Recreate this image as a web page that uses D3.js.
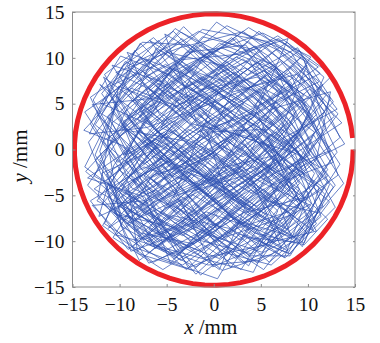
<!DOCTYPE html>
<html>
<head>
<meta charset="utf-8">
<script src="https://cdn.jsdelivr.net/npm/d3@7"></script>
<style>
  body { margin: 0; background: #fff; }
  text { font-family: "Liberation Serif", "DejaVu Serif", serif; fill: #111; }
</style>
</head>
<body>
<div class="chart-container"></div>
<script>
const totalWidth = 380;
const totalHeight = 343;

const margin = {left: 72.5, right: 25, top: 12, bottom: 56};
const chartWidth = totalWidth - margin.left - margin.right;
const chartHeight = totalHeight - margin.top - margin.bottom;

const xTicks = [-15, -10, -5, 0, 5, 10, 15];
const yTicks = [-15, -10, -5, 0, 5, 10, 15];

// boundary ring (mm) and the small gap where it starts/ends
const ringRadius = 14.8;
const ringGap = 0.085;

// trajectory of the beam (x, y in mm)
const walk = [
  [0.4,1.2],[3.2,5.1],[-2.4,8.7],[-7.9,4.3],[-3.1,-1.8],[4.6,-6.2],[9.8,-2.1],[6.3,4.9],[11.2,7.4],[5.7,11.8],
  [-1.2,13.1],[-5.6,9.4],[-11.3,6.8],[-8.2,-0.9],[-12.7,-4.3],[-6.4,-8.1],[-1.9,-13.6],[2.8,-9.2],[8.1,-11.4],[12.3,-5.7],
  [7.4,-1.3],[13.6,2.9],[8.8,8.2],[2.1,6.3],[-4.3,12.9],[-9.7,9.1],[-13.2,1.7],[-7.1,2.4],[-2.6,4.1],[1.4,-2.3],
  [-5.3,-5.4],[-10.4,-9.3],[-3.7,-11.2],[4.2,-13.4],[6.9,-7.6],[1.3,-5.1],[-0.7,1.9],[5.5,2.2],[10.6,-8.9],[3.9,-3.8],
  [-1.6,-8.4],[-8.8,-11.1],[-11.9,-2.6],[-4.8,0.7],[-9.1,5.9],[-3.4,9.8],[2.7,10.4],[7.9,12.1],[4.3,3.6],[-1.1,-0.6],
  [-6.7,-3.1],[-2.2,-6.9],[3.6,-11.7],[9.3,-6.4],[5.1,0.8],[0.2,4.6],[-5.9,7.2],[-10.8,2.9],[-6.1,-6.6],[0.9,-9.8],
  [6.2,-3.9],[12.7,-1.4],[9.4,5.6],[3.3,8.9],[-3.8,5.3],[-8.4,10.8],[-12.1,-0.2],[-9.6,-7.8],[-2.9,-3.7],[2.4,1.6],
  [8.6,-0.4],[11.4,-7.3],[5.9,-12.3],[0.1,-7.1],[-4.6,-12.4],[-7.3,-5.2],[-13.4,-3.1],[-7.7,0.9],[-1.8,6.8],[4.8,12.9],
  [9.9,8.7],[13.1,4.4],[7.1,1.1],[2.9,-4.6],[-3.3,-9.4],[-10.1,-6.2],[-5.2,-1.4],[-0.3,3.2],[-6.8,11.9],[-1.5,8.3],
  [5.3,6.1],[10.7,1.9],[6.6,-5.8],[1.8,-12.9],[-2.7,-5.6],[-8.1,-2.4],[-12.9,4.9],[-6.3,5.6],[0.6,11.6],[6.4,9.2],
  [12.1,-3.4],[8.4,-9.8],[2.2,-6.3],[-3.9,-0.2],[-10.3,-4.7],[-11.6,-8.1],[-5.7,-11.9],[0.4,-14.1],[3.8,-8.2],[7.7,-2.7],
  [13.9,0.6],[10.2,6.6],[4.1,1.3],[-2.3,2.8],[-7.6,8.6],[-3.2,13.4],[2.6,7.7],[-1.7,-1.6],[-6.9,-8.7],[-1.1,-11.8],
  [5.6,-10.4],[9.1,-4.3],[4.4,-0.9],[-0.8,5.9],[-5.4,3.1],[-11.7,7.9],[-8.9,1.4],[-3.6,-4.9],[3.1,-2.9],[8.3,3.7],
  [12.6,8.1],[6.8,12.4],[1.2,9.1],[-4.9,10.6],[-10.2,5.2],[-13.7,-1.9],[-8.6,-5.7],[-2.4,-9.9],[4.7,-5.1],[9.4,-10.6],
  [11.8,-4.9],[6.1,1.7],[0.7,-3.6],[-4.1,2.1],[-9.4,-0.6],[-4.7,7.7],[1.9,12.2],[7.3,6.8],[3.4,-1.4],[-2.1,-7.4],
  [-7.9,-12.1],[-11.2,-5.4],[-6.2,-0.1],[-0.9,-4.7],[5.2,-8.8],[10.4,-5.9],[7.9,0.3],[2.5,3.9],[-3.5,7.1],[-7.8,11.6],
  [-12.4,3.8],[-5.1,-3.3],[1.1,0.4],[6.9,-4.6],[11.9,2.4],[9.6,9.7],[3.7,13.3],[-1.4,9.6],[-6.6,4.7],[-11.1,-4.1],
  [-7.2,-10.3],[-0.6,-12.6],[4.9,-12.1],[8.7,-6.9],[3.6,-3.2],[-2.9,0.9],[-9.8,2.2],[-4.2,8.9],[2.3,4.8],[8.9,1.2],
  [12.9,-6.3],[7.6,-11.8],[1.6,-8.6],[-4.4,-7.2],[-9.1,-10.9],[-13.1,-5.6],[-7.4,-1.9],[-1.3,-3.9],[4.5,-1.8],[9.7,4.8],
  [5.8,10.2],[0.3,13.9],[-4.6,8.1],[-9.9,10.2],[-12.8,5.4],[-7.9,-3.6],[-2.7,-12.9],[2.1,-10.9],[7.3,-8.3],[12.1,-2.2],
  [7.8,5.3],[1.6,8.6],[-5.2,12.6],[-1.9,3.3],[4.3,-3.7],[9.2,-7.9],[5.3,-13.1],[-0.4,-9.3],[-6.1,-4.4],[-12.2,-7.3],
  [-10.6,-1.7],[-5.3,5.8],[-10.4,8.4],[-3.6,11.1],[2.9,12.8],[8.2,10.6],[11.6,5.1],[6.4,-1.1],[0.8,-6.2],[-4.8,-10.1],
  [-9.8,-5.1],[-3.1,1.7],[3.7,6.6],[9.1,10.8],[13.4,1.3],[8.1,-3.3],[2.6,-0.2],[-2.2,5.4],[-7.2,9.9],[-13.1,5.7],
  [-9.3,-2.7],[-4.3,-7.9],[1.4,-11.3],[6.1,-12.6],[10.9,-8.1],[8.4,-2.9],[2.8,2.6],[-2.5,-2.9],[-7.9,-7.4],[-13.6,-2.4],
  [-8.4,3.5],[-2.9,10.6],[3.4,11.4],[8.7,4.1],[4.9,-4.3],[-1.2,-10.3],[-5.4,-13.1],[-10.7,-9.6],[-6.5,-2.8],[-0.2,-0.9],
  [6.1,4.4],[12.4,6.3],[10.9,-1.1],[4.8,-7.4],[-0.9,-3.2],[-6.2,1.2],[-11.4,-2.7],[-7.7,-9.9],[-1.9,-7.9],[3.9,-11.6],
  [8.1,-11.6],[12.7,-4.1],[7.2,2.3],[1.7,7.1],[-4.4,4.6],[-10.1,6.9],[-12.3,-5.2],[-6.9,-11.3],[-0.6,-5.8],[5.4,-2.3],
  [10.8,3.2],[6.7,8.6],[0.8,11.1],[-5.5,7.9],[-0.4,2.7],[5.9,0.3],[10.9,-8.9],[5.7,-10.2],[-0.1,-12.8],[-4.2,-4.1],
  [-9.6,0.4],[-13.8,2.1],[-9.1,7.3],[-4.1,13.2],[0.9,9.9],[6.9,12.1],[11.7,7.9],[9.1,1.9],[3.6,-1.7],[-1.8,-6.4],
  [-6.9,-10.1],[-11.8,-5.9],[-6.8,0.3],[-1.2,4.8],[4.5,9.5],[10.3,5.5],[13.2,-2.8],[7.9,-6.8],[2.2,-8.7],[-3.5,-12.1],
  [-8.1,-7.9],[-12.6,-1.1],[-7.3,4.1],[-2.1,9.2],[3.1,5.4],[8.4,9.1],[12.8,3.6],[7.6,-0.8],[2.1,-4.1],[-3.7,-2.2],
  [-9.2,3.6],[-4.9,6.4],[0.1,0.9],[5.7,-5.6],[11.1,-6.9],[6.2,-11.4],[0.9,-13.2],[-4.1,-8.5],[-10.3,-7.1],[-13.3,0.8],
  [-8.8,6.7],[-3.1,4.4],[2.4,10.1],[7.9,7.2],[12.6,-0.9],[9.9,-5.2],[3.2,-6.9],[-2.6,-10.6],[-6.9,-12.4],[-11.4,-4.6],
  [-5.6,1.8],[0.3,-2.1],[6.8,-0.6],[11.9,5.9],[7.1,10.7],[1.4,13.5],[-3.9,9.4],[-8.9,5.1],[-12.7,-2.9],[-7.1,-6.1],
  [-1.4,-13.7],[3.6,-9.6],[9.6,-10.2],[12.3,-3.8],[8.1,0.6],[2.4,5.1],[-3.3,8.3],[-9.2,10.6],[-5.8,3.9],[-0.7,-1.3],
  [4.4,-6.7],[9.4,-1.8],[4.3,3.9],[-1.8,7.6],[-6.4,12.2],[-11.6,8.2],[-8.1,1.9],[-2.4,-3.1],[3.3,-8.8],[7.5,-11.8],
  [10.1,-4.8],[5.4,1.4],[0.1,6.7],[-5.7,10.9],[-10.9,4.3],[-6.3,-1.8],[-1.1,-6.6],[4.9,-3.1],[10.6,1.6],[13.8,-3.7],
  [9.2,-9.1],[3.1,-12.4],[-2.4,-7.1],[-8.7,-4.2],[-13.1,2.8],[-9.4,9.6],[-3.6,6.2],[1.9,2.4],[7.6,5.8],[10.3,10.1],
  [5.2,12.7],[-0.9,10.4],[-6.2,6.1],[-11.3,1.1],[-9.8,-8.4],[-4.1,-11.6],[1.7,-7.3],[6.9,-9.8],[11.6,-6.2],[8.9,-0.1],
  [3.1,3.4],[-2.9,-0.4],[-8.6,-3.3],[-5.1,-9.6],[0.6,-11.9],[5.6,-5.4],[0.8,1.4],[-4.7,5.1],[-9.8,1.6],[-13.4,-3.9],
  [-8.3,-8.9],[-2.8,-4.6],[3.4,-1.1],[8.9,-5.7],[13.1,-0.3],[9.7,6.9],[4.1,10.6],[-1.6,12.9],[-7.1,9.4],[-12.1,5.1],
  [-6.8,2.7],[-1.3,6.5],[4.6,7.9],[10.2,3.9],[6.3,-2.6],[0.6,-7.9],[-5.3,-11.1],[-10.9,-6.6],[-6.1,-3.9],[-0.4,2.1],
  [5.3,5.1],[11.3,8.3],[7.8,11.7],[2.7,8.1],[-3.4,3.6],[-8.9,8.4],[-12.6,-0.6],[-9.2,-5.8],[-3.8,-8.6],[2.9,-13.1],
  [6.3,-7.7],[11.7,-4.2],[7.1,-0.8],[1.5,3.8],[-4.1,-0.9],[-9.7,-3.9],[-5.6,-9.3],[0.3,-5.4],[6.1,-1.7],[12.1,-7.6],
  [9.6,-10.4],[4.3,-9.1],[-1.3,-4.6],[-7.2,0.4],[-11.8,-8.3],[-6.4,-12.3],[-0.7,-9.3],[4.8,-3.5],[10.2,-0.6],[7.3,6.1],
  [2.1,9.8],[-3.5,12.8],[-8.6,7.8],[-13.7,4.1],[-10.2,-1.4],[-4.6,2.9],[1.2,5.9],[6.6,10.9],[12.4,5.6],[9.5,-0.9],
  [4.1,-4.8],[-1.6,-1.4],[-7.4,-5.6],[-12.9,-6.1],[-7.9,-11.4],[-2.2,-13.2],[3.1,-7.9],[8.6,-9.6],[12.9,-3.9],[8.1,3.1],
  [2.8,7.4],[-2.6,11.4],[-7.6,11.7],[-11.9,6.1],[-7.2,-0.8],[-1.9,3.9],[3.6,0.2],[9.1,5.2],[13.4,-1.6],[9.9,-7.1],
  [4.1,-11.4],[-1.9,-9.8],[-7.6,-6.8],[-12.1,-1.1],[-7.9,5.3],[-2.4,8.6],[3.1,12.9],[8.6,8.6],[13.2,3.9],[8.8,-2.2],
  [3.3,-5.6],[-2.1,-10.3],[-7.8,-9.1],[-11.4,-3.4],[-6.5,0.9],[-1.1,-2.8],[4.4,2.1],[9.7,7.4],[5.3,11.4],[0.4,6.1],
  [-4.3,-5.2],[2.7,-1.9],[-1.8,4.4],[5.9,7.6],[0.2,-3.3],[-6.6,-0.7],[-2.1,-8.2],[3.9,-4.4],[8.3,-7.1],[1.1,-9.6],
  [-3.7,-3.9],[-8.2,2.1],[-3.3,-0.3],[2.1,3.4],[-2.7,6.9],[3.8,9.7],[7.4,3.1],[2.3,-2.6],[-5.1,-6.4],[-9.4,-1.2],
  [-4.4,3.9],[1.5,7.9],[6.2,2.6],[1.1,-1.1],[-3.2,-6.1],[2.9,-9.9],[6.8,-4.1],[0.6,-0.6],[-5.6,2.4],[-1.3,9.7],
  [4.2,5.2],[9.3,-0.8],[3.8,-6.1],[-2.4,-2.7],[-7.8,-6.3],[-3.1,-10.8],[1.9,-5.3],[7.1,-1.6],[2.2,4.9],[-3.4,1.1],
  [-8.6,5.3],[-4.2,9.4],[0.9,3.7],[6.1,-2.1],[10.4,3.3],[5.3,8.6],[-0.2,5.8],[-5.8,0.6],[-10.1,-4.2],[-4.9,-7.7],
  [0.8,-3.1],[5.6,-7.2],[1.3,-11.6],[-3.5,-7.6],[-7.4,-2.9],[-2.7,2.2],[3.1,-0.8],[7.9,2.9],[3.5,7.2],[-2.1,11.4],
  [-6.9,6.6],[-1.6,1.9],[4.6,4.1],[8.1,-4.4],[3.1,-8.1],[-2.3,-4.9],[-7.1,-9.4],[-2.9,-13.1],[2.5,-7.9],[7.2,-10.8],
  [4.1,-3.4],[-1.2,0.1],[-6.4,-4.1],[-11.2,0.4],[-6.3,4.4],[-0.9,8.1],[4.4,11.3],[8.6,6.3],[3.4,2.1],[-2.2,-1.3],
  [-7.4,1.3],[-3.7,5.9],[2.6,1.1],[7.4,-3.8],[2.4,-7.4],[-3.9,-11.4],[-6.7,-5.9],[-1.4,-3.3],[4.1,1.8],[9.7,-2.7],
  [5.1,-7.4],[-0.5,-2.6],[-5.4,-8.1],[-9.9,-3.6],[-5.1,0.2],[0.1,5.2],[5.7,1.3],[11.2,-1.9],[6.9,4.1],[1.4,9.2],
  [-4.2,6.1],[-9.6,3.1],[-4.9,-2.4],[0.4,-8.6],[5.3,-4.3],[9.9,-9.1],[4.6,-12.4],[-0.9,-7.1],[-6.2,-10.8],[-8.9,-5.4],
  [-3.3,-1.1],[2.3,-5.7],[7.8,-8.7],[10.7,-2.6],[5.8,3.5],[0.4,0.6],[-4.8,4.6],[-9.2,9.1],[-3.8,11.7],[1.8,6.6],
  [7.1,9.6],[11.8,4.1],[6.2,-0.4],[0.6,3.9],[-5.1,9.3],[-10.3,5.9],[-5.4,-1.2],[-0.6,-5.6],[4.7,-10.6],[8.9,-4.8],
  [3.3,0.4],[-2.6,-4.3],[-8.4,-9.9],[-3.6,-8.3],[1.9,-2.1],[6.9,-6.3],[12.1,-2.9],[7.7,3.6],[2.1,8.4],[-3.1,3.4],
  [-8.9,-0.7],[-12.4,-5.6],[-7.1,-8.4],[-1.5,-11.1],[3.9,-7.1],[-0.8,-1.9],[-6.2,2.1],[-1.1,5.3],[4.9,9.7],[9.6,5.9],
  [4.7,1.6],[-0.9,-3.8],[-5.7,-6.9],[-1.2,-9.1],[5.1,-11.2],[9.3,-6.6],[4.4,-2.1],[-1.3,1.4],[-7.6,-2.2],[-11.3,3.6],
  [-6.9,8.1],[-1.7,10.9],[3.9,6.3],[8.8,1.4],[3.6,-3.1],[-2.1,-7.8],[-7.3,-3.8],[-2.9,0.9],[2.6,5.1],[8.1,8.4],
  [11.2,1.1],[6.7,-4.2],[1.6,-9.1],[-3.8,-5.4],[-9.2,-8.1],[-5.3,-3.2],[-0.1,-0.4],[5.1,-3.6],[10.3,-6.1],[6.4,-10.2],
  [0.9,-6.1],[-4.5,-1.8],[-9.8,2.7],[-5.2,7.4],[0.3,3.1],[5.6,6.8],[9.3,10.1],[4.1,4.6],[-1.4,7.9],[-6.8,4.3],
  [-11.8,0.9],[-7.2,-4.9],[-1.9,-2.1],[3.6,-6.6],[8.1,-2.8],[3.2,2.3],[-2.4,-1.1],[-7.9,3.6],[-3.1,8.6],[2.4,12.1],
  [6.9,6.1],[1.7,1.3],[-3.8,-3.6],[-9.3,-6.9],[-4.1,-11.9],[1.2,-6.7],[6.5,-1.4],[1.8,4.1],[-4.4,8.9],[-8.1,3.3],
  [-2.9,-1.4],[2.6,-6.3],[8.2,-9.4],[5.9,-3.3],[0.8,2.8],[-4.6,-1.6],[-10.4,-5.6],[-6.1,-10.6],[-0.8,-6.8],[4.9,-8.9],
  [9.1,-3.7],[4.6,2.8],[-0.7,7.1],[-6.1,11.1],[-8.3,5.6],[-3.6,1.3],[1.7,-2.9],[6.6,1.9],[11.6,-2.9],[7.4,-7.9],
  [2.3,-11.9],[-2.8,-7.3],[-7.9,-1.9],[-3.6,3.7],[1.4,9.6],[6.3,4.8],[1.9,-0.7],[-3.4,-5.7],[-8.6,-10.6],[-3.3,-12.6],
  [2.6,-8.2],[-1.8,-3.1],[-7.1,0.7],[-2.3,5.9],[3.1,2.7],[8.4,6.6],[4.2,10.9],[-1.2,12.3],[-5.6,7.4],[-10.8,9.2],
  [-6.4,2.4],[-1.3,-2.4],[4.3,-6.9],[9.4,-10.1],[11.2,-4.1],[6.1,-0.9],[0.9,-4.6],[-4.3,-9.4],[-9.6,-6.2],[-4.6,-2.6],
  [0.7,1.7],[6.2,5.5],[11.1,9.0],[6.8,12.0],[1.9,8.6],[-3.5,4.9],[-8.7,8.9],[-12.6,2.7],[-7.4,-1.6],[-2.1,2.9],
  [3.4,7.7],[8.6,3.6],[3.9,-1.9],[-1.4,-6.4],[-6.8,-10.4],[-1.9,-12.8],[3.4,-9.3],[7.9,-11.3],[10.4,-6.6],[5.1,-1.8],
  [-0.4,-5.1],[-5.9,-1.6],[-10.6,-6.9],[-5.3,-10.1],[0.1,-3.7],[5.3,-0.3],[10.1,4.6],[5.6,8.1],[0.6,4.4],[-4.9,8.3],
  [-9.9,4.2],[-5.1,-0.8],[0.2,-5.9],[5.8,-10.6],[9.6,-5.3],[4.6,-1.4],[-0.8,2.6],[-6.1,6.9],[-1.6,11.4],[3.6,8.1],
  [8.9,11.1],[12.7,5.2],[8.1,0.1],[2.6,-4.4],[-2.9,-8.9],[-8.1,-5.1],[-11.2,-8.6],[-6.1,-4.9],[-1.4,0.4],[3.9,-3.9],
  [9.2,0.6],[4.1,5.9],[-1.1,1.8],[-6.4,-3.4],[-1.6,-7.9],[3.7,-12.7],[6.8,-6.7],[1.6,-1.8],[-4.2,3.1],[-9.6,-0.6],
  [-5.4,5.6],[-0.4,9.4],[5.1,4.9],[9.9,9.2],[7.1,2.1],[1.9,-2.8],[-3.4,-7.1],[-8.8,-2.8],[-4.4,2.6],[0.9,6.4],
  [6.4,2.7],[11.6,7.1],[7.2,-1.9],[2.1,-6.9],[-3.2,-10.9],[-8.4,-7.6],[-3.9,-3.3],[1.4,0.9],[6.9,-2.4],[12.4,-0.1],
  [8.6,5.1],[3.1,9.9],[-2.3,6.4],[-7.8,10.1],[-11.9,3.9],[-6.7,0.4],[-1.6,-4.3],[3.6,-8.4],[7.9,-11.1],[5.4,-5.6],
  [0.3,-1.3],[-5.1,3.6],[-10.2,7.4],[-5.9,11.9],[-0.7,7.1],[4.6,3.4],[9.9,-1.3],[5.7,-6.2],[0.4,-10.1],[-4.7,-6.3],
  [-10.1,-2.2],[-5.3,1.9],[-0.1,-2.9],[5.1,0.9],[10.6,-3.6],[6.2,-8.1],[1.1,-4.1],[-4.2,0.3],[-9.3,-4.3],[-4.8,-9.1],
  [0.6,-13.1],[3.4,-6.1],[-1.9,-1.8],[-7.1,3.1],[-2.6,7.4],[2.8,3.3],[8.3,7.2],[3.7,11.8],[-1.6,7.2],[-6.8,2.9],
  [-12.1,7.1],[-7.4,1.6],[-2.3,-3.6],[2.9,-8.1],[8.1,-4.7],[3.1,-0.1],[-2.2,4.3],[-7.4,8.3],[-3.4,12.1],[1.8,7.9],
  [6.9,3.4],[2.1,-1.4],[-3.1,-6.2],[-8.1,-11.1],[-9.1,-3.9],[-4.1,0.6],[1.3,4.4],[6.5,9.1],[10.9,3.8],[5.9,-1.2]
];

const svg = d3.select("body")
    .select('.chart-container')
    .append("svg")
    .attr('width', totalWidth)
    .attr('height', totalHeight);

const chart = svg.append('g').attr('transform', `translate(${margin.left},${margin.top})`);

const scaleX = d3.scaleLinear().range([0, chartWidth]).domain([-15, 15]);
const scaleY = d3.scaleLinear().range([chartHeight, 0]).domain([-15, 15]);

const fmt = d => d < 0 ? "\u2212" + Math.abs(d) : String(d);

// trajectory
chart.append('path')
    .datum(walk)
    .attr('fill', 'none')
    .attr('stroke', '#2f52b2')
    .attr('stroke-opacity', 0.9)
    .attr('stroke-width', 0.8)
    .attr('d', d3.line().x(d => scaleX(d[0])).y(d => scaleY(d[1])));

// red ring, drawn as a polyline so the start/end gap shows
const ringAngles = d3.range(0, 73).map(i => -(2 * Math.PI - ringGap) * i / 72);
chart.append('path')
    .datum(ringAngles)
    .attr('fill', 'none')
    .attr('stroke', '#ec2227')
    .attr('stroke-width', 5)
    .attr('d', d3.line()
        .x(a => scaleX(ringRadius * Math.cos(a)))
        .y(a => scaleY(ringRadius * Math.sin(a))));

// frame
chart.append('rect')
    .attr('width', chartWidth)
    .attr('height', chartHeight)
    .attr('fill', 'none')
    .attr('stroke', '#8c8c8c')
    .attr('stroke-width', 1);

chart.append('g')
    .attr('transform', `translate(0,${chartHeight})`)
    .call(d3.axisBottom(scaleX).tickValues(xTicks).tickSize(-3).tickPadding(10).tickFormat(fmt));
chart.append('g')
    .call(d3.axisLeft(scaleY).tickValues(yTicks).tickSize(-3).tickPadding(8).tickFormat(fmt));
chart.append('g')
    .attr('transform', `translate(${chartWidth},0)`)
    .call(d3.axisRight(scaleY).tickValues(yTicks).tickSize(-2).tickFormat(''));

chart.selectAll('.domain').remove();
chart.selectAll('.tick line').attr('stroke', '#8c8c8c');
chart.selectAll('.tick text')
    .attr('font-family', '"Liberation Serif", serif')
    .attr('font-size', 19.5)
    .attr('fill', '#111');

// axis titles
const xTitle = svg.append('text')
    .attr('x', margin.left + chartWidth / 2 - 3)
    .attr('y', 334)
    .attr('text-anchor', 'middle')
    .attr('font-size', 21);
xTitle.append('tspan').attr('font-style', 'italic').text('x');
xTitle.append('tspan').text(' /mm');

const yTitle = svg.append('text')
    .attr('transform', `translate(27,156) rotate(-90)`)
    .attr('text-anchor', 'middle')
    .attr('font-size', 21);
yTitle.append('tspan').attr('font-style', 'italic').text('y');
yTitle.append('tspan').text(' /mm');
</script>
</body>
</html>
